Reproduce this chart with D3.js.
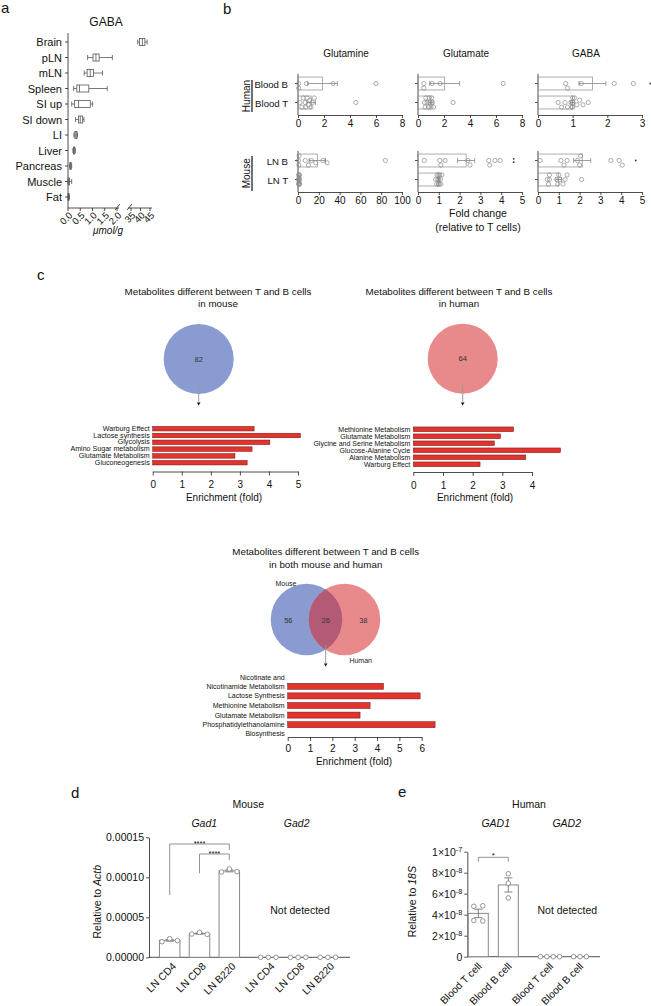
<!DOCTYPE html>
<html>
<head>
<meta charset="utf-8">
<script src="https://cdn.jsdelivr.net/npm/d3@7/dist/d3.min.js"></script>
<style>
html,body{margin:0;padding:0;background:#fff;}
svg{display:block;}
text{font-family:"Liberation Sans", Arial, Helvetica, sans-serif;}
</style>
</head>
<body>
<svg id="fig" width="651" height="1006" viewBox="0 0 651 1006"></svg>
<script>
// ================= DATA =================
// Panel a : GABA content per tissue (umol/g), box plot stats
const tissues = ["Brain","pLN","mLN","Spleen","SI up","SI down","LI","Liver","Pancreas","Muscle","Fat"];
const gabaMin = [38.5,0.80,0.66,0.23,0.15,0.31,0.24,0.20,0.07,0.00,0.00];
const gabaQ1  = [39.5,1.02,0.78,0.36,0.27,0.43,0.28,0.22,0.08,0.01,0.01];
const gabaMed = [41.0,1.14,0.91,0.47,0.43,0.50,0.32,0.25,0.10,0.03,0.02];
const gabaQ3  = [42.3,1.27,1.04,0.85,0.91,0.60,0.36,0.28,0.13,0.06,0.04];
const gabaMax = [43.5,1.81,1.41,1.60,1.00,0.65,0.39,0.30,0.15,0.15,0.06];
const aTicksLow = [0,0.5,1,1.5,2];
const aTicksHigh = [35,40,45];

// Panel b : fold change relative to T cells
const metabolites = ["Glutamine","Glutamate","GABA"];
const humanRows = ["Blood B","Blood T"];
const mouseRows = ["LN B","LN T"];
const humanMax = [8,8,3];
const mouseMax = [100,5,5];
const humanTicks = [[0,2,4,6,8],[0,2,4,6,8],[0,1,2,3]];
const mouseTicks = [[0,20,40,60,80,100],[0,1,2,3,4,5],[0,1,2,3,4,5]];
const humanGlnB  = [0.05,0.05,0.65,2.7,6.0];
const humanGlnT  = [0.15,0.3,0.4,0.55,0.6,0.7,0.8,0.9,1.0,1.1,1.25,4.45];
const humanGluB  = [0.45,0.45,1.1,1.7,6.55];
const humanGluT  = [0.5,0.55,0.6,0.7,0.8,0.85,0.9,1.0,1.05,1.1,1.2,2.7];
const humanGabaB = [0.85,0.8,1.25,2.2,2.75];
const humanGabaT = [0.58,0.68,0.78,0.85,0.95,0.98,1.0,1.0,1.0,1.05,1.12,1.2,1.3,1.45];
const mouseGlnB  = [0.5,0.8,1.0,7,10,13,17,24,28,84];
const mouseGlnT  = [0.6,0.7,0.8,0.9,0.95,1.0,1.0,1.05,1.1,1.2,1.3,1.5];
const mouseGluB  = [0.3,1.05,1.3,1.1,2.5,2.4,3.45,3.4,3.7,3.95];
const mouseGluT  = [0.85,0.9,0.92,0.95,0.98,1.0,1.0,1.02,1.05,1.08,1.1,1.15];
const mouseGabaB = [0.1,1.1,1.4,1.25,1.9,2.05,2.0,3.5,3.9,4.05];
const mouseGabaT = [0.45,0.5,0.55,0.55,0.9,0.95,1.0,1.05,1.2,1.3,1.4,2.1];
const humanSigPos = [null,null,3.24];
const humanSigN   = [0,0,1];
const mouseSigPos = [null,4.6,4.7];
const mouseSigN   = [0,2,1];

// Panel c : pathway enrichment
const mouseSetSize = "82", humanSetSize = "64";
const mouseOnly = "56", sharedCount = "26", humanOnly = "38";
const mousePathways = ["Warburg Effect","Lactose synthesis","Glycolysis","Amino Sugar metabolism","Glutamate Metabolism","Gluconeogenesis"];
const mouseEnrich = [3.49,5.08,4.03,3.42,2.83,3.25];
const humanPathways = ["Methionine Metabolism","Glutamate Metabolism","Glycine and Serine Metabolism","Glucose-Alanine Cycle","Alanine Metabolism","Warburg Effect"];
const humanEnrich = [3.38,2.94,2.73,4.96,3.79,2.25];
const sharedPathways = ["Nicotinate and\nNicotinamide Metabolism","Lactose Synthesis","Methionine Metabolism","Glutamate Metabolism","Phosphatidylethanolamine\nBiosynthesis"];
const sharedEnrich = [4.29,5.93,3.69,3.24,6.6];
const mouseEnrichTicks = [0,1,2,3,4,5];
const humanEnrichTicks = [0,1,2,3,4];
const sharedEnrichTicks = [0,1,2,3,4,5,6];

// Panel d : mouse Gad1 / Gad2 relative to Actb
const dGenes = ["Gad1","Gad2"];
const dCells = ["LN CD4","LN CD8","LN B220"];
const dGad1 = [[0.0000195,0.0000233,0.0000208],[0.0000291,0.0000312,0.0000287],[0.0001066,0.0001104,0.000107]];
const dGad2 = [[0,0,0],[0,0,0],[0,0,0]];
const dTicks = [0,0.00005,0.0001,0.00015];

// Panel e : human GAD1 / GAD2 relative to 18S
const eGenes = ["GAD1","GAD2"];
const eCells = ["Blood T cell","Blood B cell"];
const eGAD1 = [[4.8e-8,4.85e-8,3.45e-8,3.4e-8],[7.9e-8,7.0e-8,5.6e-8]];
const eGAD2 = [[0,0,0,0],[0,0,0]];
const eTicks = [0,2e-8,4e-8,6e-8,8e-8,1e-7];

// ================= HELPERS =================
const svg = d3.select("#fig");
svg.append("rect").attr("width",651).attr("height",1006).attr("fill","#fff");

function txt(p,x,y,s,size,o={}){
  const t=p.append("text").attr("x",x).attr("y",y).attr("font-size",size).text(s);
  if(o.anchor) t.attr("text-anchor",o.anchor);
  if(o.italic) t.attr("font-style","italic");
  if(o.baseline) t.attr("dominant-baseline",o.baseline);
  t.attr("fill",o.fill||"#111");
  return t;
}
function ln(p,x1,y1,x2,y2,stroke="#222",w=0.8){
  return p.append("line").attr("x1",x1).attr("y1",y1).attr("x2",x2).attr("y2",y2).attr("stroke",stroke).attr("stroke-width",w);
}
function styleAxis(g,fs){
  g.attr("font-size",fs);
  g.selectAll(".domain").attr("stroke","#222").attr("stroke-width",0.8);
  g.selectAll(".tick line").attr("stroke","#222").attr("stroke-width",0.8);
  g.selectAll(".tick text").attr("fill","#111");
}
function meanSem(a){const m=d3.mean(a);const s=a.length>1?d3.deviation(a)/Math.sqrt(a.length):0;return [m,s];}
const intFmt=d3.format("d");

// panel letters
txt(svg,1,13,"a",15); txt(svg,223,14,"b",15); txt(svg,37,280,"c",15);
txt(svg,71,798,"d",15); txt(svg,398,797,"e",15);

// ================= PANEL A =================
{
  const g=svg.append("g");
  const aY=d3.scalePoint(tissues,[42,197]);
  const aLo=d3.scaleLinear([0,2],[68,117]);
  const aHi=d3.scaleLinear([35,45],[131,150]);
  const aX=v=>v>10?aHi(v):aLo(v);
  txt(g,106,26,"GABA",12,{anchor:"middle"});
  ln(g,68,33,68,208);
  tissues.forEach((t,i)=>{
    const y=aY(t);
    ln(g,65,y,68,y);
    txt(g,62,y,t,11,{anchor:"end",baseline:"central"});
    const c="#555";
    ln(g,aX(gabaMin[i]),y,aX(gabaQ1[i]),y,c,0.8);
    ln(g,aX(gabaQ3[i]),y,aX(gabaMax[i]),y,c,0.8);
    ln(g,aX(gabaMin[i]),y-2.5,aX(gabaMin[i]),y+2.5,c,0.8);
    ln(g,aX(gabaMax[i]),y-2.5,aX(gabaMax[i]),y+2.5,c,0.8);
    g.append("rect").attr("x",aX(gabaQ1[i])).attr("y",y-3.5).attr("width",Math.max(0.5,aX(gabaQ3[i])-aX(gabaQ1[i]))).attr("height",7)
      .attr("fill","#fff").attr("stroke",c).attr("stroke-width",0.8);
    ln(g,aX(gabaMed[i]),y-3.5,aX(gabaMed[i]),y+3.5,c,0.8);
  });
  ln(g,68,208,119,208); ln(g,128,208,152,208);
  ln(g,115,210,120,204); ln(g,127,210,132,204);
  aTicksLow.forEach(v=>{ln(g,aLo(v),208,aLo(v),211);
    g.append("text").attr("transform",`translate(${aLo(v)+5},216) rotate(-45)`).attr("text-anchor","end").attr("font-size",9.5).attr("fill","#111").text(d3.format(".1f")(v));});
  aTicksHigh.forEach(v=>{ln(g,aHi(v),208,aHi(v),211);
    g.append("text").attr("transform",`translate(${aHi(v)+5},216) rotate(-45)`).attr("text-anchor","end").attr("font-size",9.5).attr("fill","#111").text(v);});
  txt(g,108,234,"\u03bcmol/g",10,{anchor:"middle",italic:true});
}

// ================= PANEL B =================
function swarmY(vals,xs,cy,r,step,maxOff){
  const pts=vals.map(v=>({v,x:xs(v)})).sort((a,b)=>a.x-b.x);
  const offs=[0];for(let k=1;k<=6;k++){offs.push(k*step,-k*step);}
  const placed=[];
  pts.forEach(p=>{
    let best=0,bestC=Infinity;
    for(const o of offs){
      if(Math.abs(o)>maxOff) continue;
      let c=0;placed.forEach(q=>{const d=Math.hypot(q.x-p.x,q.y-(cy+o));if(d<2*r)c+=(2*r-d);});
      if(c===0){best=o;bestC=0;break;}
      if(c<bestC){bestC=c;best=o;}
    }
    p.y=cy+best;placed.push(p);
  });
  return placed;
}
const colX0=[298,418,538], colW=104;
function drawBBlock(top,rows,maxes,ticks,dataRows,sigPos,sigN){
  metabolites.forEach((m,c)=>{
    const x0=colX0[c];
    const xs=d3.scaleLinear([0,maxes[c]],[x0,x0+colW]);
    const ys=d3.scaleBand(rows,[top,top+38]).paddingInner(0.32).paddingOuter(0.16);
    const g=svg.append("g");
    const ax=g.append("g").attr("transform",`translate(0,${top+41})`)
      .call(d3.axisBottom(xs).tickValues(ticks[c]).tickFormat(intFmt).tickSize(3).tickPadding(1.5).tickSizeOuter(0));
    styleAxis(ax,10);
    ln(g,x0,top,x0,top+41);
    rows.forEach((r,ri)=>{
      const vals=dataRows[ri][c];
      const cy=ys(r)+ys.bandwidth()/2;
      ln(g,x0-3,cy,x0,cy);
      const [mu,se]=meanSem(vals);
      g.append("rect").attr("x",x0).attr("y",ys(r)).attr("width",Math.max(0.6,xs(mu)-x0)).attr("height",ys.bandwidth())
        .attr("fill","none").attr("stroke","#9a9a9a").attr("stroke-width",0.8);
      const e1=xs(Math.max(0,mu-se)), e2=xs(mu+se);
      ln(g,e1,cy,e2,cy,"#888",0.8);
      ln(g,e1,cy-2.5,e1,cy+2.5,"#888",0.8);
      ln(g,e2,cy-2.5,e2,cy+2.5,"#888",0.8);
      const pts=swarmY(vals,xs,cy,2.1,2.3,6.5);
      g.selectAll(null).data(pts).join("circle").attr("cx",d=>d.x).attr("cy",d=>d.y).attr("r",2.1)
        .attr("fill","none").attr("stroke","#8a8a8a").attr("stroke-width",0.7);
      if(ri===0 && sigPos[c]!==null){
        const n=sigN[c];
        for(let k=0;k<n;k++){
          const yy=cy+(k-(n-1)/2)*3.4;
          g.append("circle").attr("cx",xs(sigPos[c])).attr("cy",yy).attr("r",0.9).attr("fill","#333");
        }
      }
    });
  });
}
{
  const g=svg.append("g");
  metabolites.forEach((m,c)=>txt(g,colX0[c]+48,57,m,10,{anchor:"middle"}));
  drawBBlock(74,humanRows,humanMax,humanTicks,
    [[humanGlnB,humanGluB,humanGabaB],[humanGlnT,humanGluT,humanGabaT]],humanSigPos,humanSigN);
  drawBBlock(151,mouseRows,mouseMax,mouseTicks,
    [[mouseGlnB,mouseGluB,mouseGabaB],[mouseGlnT,mouseGluT,mouseGabaT]],mouseSigPos,mouseSigN);
  const yh=d3.scaleBand(humanRows,[74,112]).paddingInner(0.32).paddingOuter(0.16);
  const ym=d3.scaleBand(mouseRows,[151,189]).paddingInner(0.32).paddingOuter(0.16);
  humanRows.forEach(r=>txt(g,288,yh(r)+yh.bandwidth()/2+1,r,9.6,{anchor:"end",baseline:"central"}));
  mouseRows.forEach(r=>txt(g,288,ym(r)+ym.bandwidth()/2+1,r,9.6,{anchor:"end",baseline:"central"}));
  g.append("text").attr("transform","translate(246,96) rotate(-90)").attr("text-anchor","middle").attr("dominant-baseline","central").attr("font-size",10).attr("fill","#111").text("Human");
  g.append("text").attr("transform","translate(246,173.3) rotate(-90)").attr("text-anchor","middle").attr("dominant-baseline","central").attr("font-size",10).attr("fill","#111").text("Mouse");
  ln(g,252,80,252,112,"#222",1.3);
  ln(g,252,156,252,191,"#222",1.3);
  txt(g,478,217,"Fold change",10.5,{anchor:"middle"});
  txt(g,478,230.5,"(relative to T cells)",10.5,{anchor:"middle"});
}

// ================= PANEL C =================
const blueC="#8a9bd1", redC="#e8898b", overlapC="#b25a76", barC="#e2332d";
function arrow(g,x,y1,y2){
  ln(g,x,y1,x,y2,"#999",1);
  g.append("path").attr("d",`M${x-1.8},${y2+0.5}L${x+1.8},${y2+0.5}L${x},${y2+3.5}Z`).attr("fill","#111");
}
function enrichChart(cats,vals,ticks,x0,x1,y0,y1,axisY,labelFs,pad,tickPad){
  const g=svg.append("g");
  const xs=d3.scaleLinear([0,ticks[ticks.length-1]],[x0,x1]);
  const ys=d3.scaleBand(cats,[y0,y1]).paddingInner(pad).paddingOuter(pad/2);
  cats.forEach((c,i)=>{
    g.append("rect").attr("x",x0).attr("y",ys(c)).attr("width",xs(vals[i])-x0).attr("height",ys.bandwidth())
      .attr("fill",barC).attr("stroke","#6b1512").attr("stroke-width",0.5);
    const lines=c.split("\n");
    const cy=ys(c)+ys.bandwidth()/2;
    const lh=labelFs*1.3;
    lines.forEach((l,k)=>{
      const yy= i===0 ? cy-(lines.length-1-k)*lh : cy+k*lh;
      txt(g,x0-3,yy,l,labelFs,{anchor:"end",baseline:"central"});
    });
  });
  const ax=g.append("g").attr("transform",`translate(0,${axisY})`)
    .call(d3.axisBottom(xs).tickValues(ticks).tickFormat(intFmt).tickSize(4).tickPadding(tickPad).tickSizeOuter(0));
  styleAxis(ax,10);
  return g;
}
{
  const g=svg.append("g");
  txt(g,218,295,"Metabolites different between T and B cells",9.8,{anchor:"middle"});
  txt(g,218,307,"in mouse",9.8,{anchor:"middle"});
  g.append("circle").attr("cx",198.7).attr("cy",359).attr("r",35).attr("fill",blueC);
  txt(g,198.7,359,mouseSetSize,7.5,{anchor:"middle",baseline:"central",fill:"#333"});
  arrow(g,198.7,385,402);
  enrichChart(mousePathways,mouseEnrich,mouseEnrichTicks,152.7,298,425.3,466.1,471.5,7.1,0.33,5.5);
  txt(g,224,501,"Enrichment (fold)",10,{anchor:"middle"});
  txt(g,459,295,"Metabolites different between T and B cells",9.8,{anchor:"middle"});
  txt(g,459,307,"in human",9.8,{anchor:"middle"});
  g.append("circle").attr("cx",462.7).attr("cy",358.7).attr("r",35).attr("fill",redC);
  txt(g,462.7,358.7,humanSetSize,7.5,{anchor:"middle",baseline:"central",fill:"#333"});
  arrow(g,462.7,385,402);
  enrichChart(humanPathways,humanEnrich,humanEnrichTicks,413.3,532,425.8,467.8,472,7,0.33,5.5);
  txt(g,475,501,"Enrichment (fold)",10,{anchor:"middle"});
  txt(g,325.7,555,"Metabolites different between T and B cells",9.8,{anchor:"middle"});
  txt(g,325.7,567.5,"in both mouse and human",9.8,{anchor:"middle"});
  const defs=svg.append("defs");
  defs.append("clipPath").attr("id","clipM").append("circle").attr("cx",306.5).attr("cy",619.5).attr("r",35.8);
  g.append("circle").attr("cx",306.5).attr("cy",619.5).attr("r",35.8).attr("fill",blueC);
  g.append("circle").attr("cx",344.5).attr("cy",619.5).attr("r",35.8).attr("fill",redC);
  g.append("circle").attr("cx",344.5).attr("cy",619.5).attr("r",35.8).attr("fill",overlapC).attr("clip-path","url(#clipM)");
  txt(g,288.3,620,mouseOnly,7.5,{anchor:"middle",baseline:"central",fill:"#333"});
  txt(g,325.7,620,sharedCount,7.5,{anchor:"middle",baseline:"central",fill:"#333"});
  txt(g,363.3,620,humanOnly,7.5,{anchor:"middle",baseline:"central",fill:"#333"});
  txt(g,286,583.5,"Mouse",7,{anchor:"middle",baseline:"central",fill:"#222"});
  txt(g,360.7,660,"Human",7,{anchor:"middle",baseline:"central",fill:"#222"});
  arrow(g,325.7,645,663);
  enrichChart(sharedPathways,sharedEnrich,sharedEnrichTicks,287.7,421.7,681.5,729.5,737,7,0.37,4);
  txt(g,354,764.5,"Enrichment (fold)",10,{anchor:"middle"});
}

// ================= PANELS D & E =================
function clusterX(vals,yS,r,spacing){
  const ys=vals.map(v=>yS(v));
  const idx=vals.map((v,i)=>i).sort((a,b)=>ys[a]-ys[b]);
  const groups=[];let cur=[idx[0]];
  for(let k=1;k<idx.length;k++){
    if(ys[idx[k]]-ys[cur[cur.length-1]]<2*r+0.6) cur.push(idx[k]); else {groups.push(cur);cur=[idx[k]];}
  }
  groups.push(cur);
  const off=new Array(vals.length).fill(0);
  groups.forEach(gr=>{gr.sort((a,b)=>a-b);gr.forEach((i,j)=>{off[i]=(j-(gr.length-1)/2)*spacing;});});
  return off;
}
function qpcrBars(g,cx,vals,yS,barW,spacing){
  const [mu,se]=meanSem(vals);
  if(mu>0){
    g.append("rect").attr("x",cx-barW/2).attr("y",yS(mu)).attr("width",barW).attr("height",yS(0)-yS(mu))
      .attr("fill","#fff").attr("stroke","#888").attr("stroke-width",1);
    ln(g,cx,yS(mu-se),cx,yS(mu+se),"#777",0.9);
    ln(g,cx-4,yS(mu-se),cx+4,yS(mu-se),"#777",0.9);
    ln(g,cx-4,yS(mu+se),cx+4,yS(mu+se),"#777",0.9);
  }
  const off=clusterX(vals,yS,2.3,spacing);
  vals.forEach((v,i)=>{
    g.append("circle").attr("cx",cx+off[i]).attr("cy",yS(v)).attr("r",2.3)
      .attr("fill","#fff").attr("stroke","#8a8a8a").attr("stroke-width",0.9);
  });
}
{
  const g=svg.append("g");
  const yS=d3.scaleLinear([0,0.00015],[957.3,837.3]);
  const outer=d3.scalePoint(dGenes,[169.7,268.3]);
  const inner=d3.scalePoint(dCells,[0,59.6]);
  txt(g,248.3,808,"Mouse",10.5,{anchor:"middle"});
  dGenes.forEach(ge=>txt(g,outer(ge)+(ge==="Gad1"?34.6:28.4),826.5,ge,10.5,{anchor:"middle",italic:true}));
  const ay=g.append("g").attr("transform","translate(149,0)")
    .call(d3.axisLeft(yS).tickValues(dTicks).tickFormat(d3.format(".5f")).tickSize(3).tickPadding(2).tickSizeOuter(0));
  styleAxis(ay,10.5);
  ln(g,149,957.3,350,957.3);
  [dGad1,dGad2].forEach((arr,gi)=>{
    dCells.forEach((c,ci)=>{
      const cx=outer(dGenes[gi])+inner(c);
      qpcrBars(g,cx,arr[ci],yS,20.5,7.7);
      g.append("text").attr("transform",`translate(${cx+7},967) rotate(-45)`).attr("text-anchor","end")
        .attr("font-size",10.3).attr("fill","#111").text(c);
    });
  });
  const t=g.append("text").attr("transform","translate(96.7,901.7) rotate(-90)").attr("text-anchor","middle")
    .attr("dominant-baseline","central").attr("font-size",10.5).attr("fill","#111");
  t.append("tspan").text("Relative to ");
  t.append("tspan").attr("font-style","italic").text("Actb");
  const xCD4=outer("Gad1")+inner("LN CD4"), xCD8=outer("Gad1")+inner("LN CD8"), xB=outer("Gad1")+inner("LN B220");
  g.append("path").attr("d",`M${xCD4},895V844H${xB}V850`).attr("fill","none").attr("stroke","#777").attr("stroke-width",0.8);
  g.append("path").attr("d",`M${xCD8},873.3V854H${xB}V860`).attr("fill","none").attr("stroke","#777").attr("stroke-width",0.8);
  txt(g,(xCD4+xB)/2,846,"****",7.5,{anchor:"middle"});
  txt(g,(xCD8+xB)/2,856.3,"****",7.5,{anchor:"middle"});
  txt(g,300,914.3,"Not detected",10.5,{anchor:"middle"});
}
{
  const g=svg.append("g");
  const yS=d3.scaleLinear([0,1e-7],[956.7,851.7]);
  const outer=d3.scalePoint(eGenes,[478.3,550]);
  const inner=d3.scalePoint(eCells,[0,30]);
  txt(g,529,808,"Human",10.5,{anchor:"middle"});
  eGenes.forEach(ge=>txt(g,outer(ge)+(ge==="GAD1"?17.4:16.7),826.5,ge,10.5,{anchor:"middle",italic:true}));
  const ay=g.append("g").attr("transform","translate(467.3,0)")
    .call(d3.axisLeft(yS).tickValues(eTicks).tickSize(3).tickPadding(2).tickSizeOuter(0));
  styleAxis(ay,10.5);
  ay.selectAll(".tick text").each(function(d){
    const t=d3.select(this);t.text(null);
    if(d===0){t.text("0");return;}
    const ex=Math.floor(Math.log10(d)+1e-9);const mant=Math.round(d/Math.pow(10,ex));
    t.append("tspan").text(mant+"\u00d710");
    t.append("tspan").attr("dy","-0.45em").attr("font-size","0.7em").text(String(ex));
  });
  ln(g,467.3,956.7,600,956.7);
  [eGAD1,eGAD2].forEach((arr,gi)=>{
    eCells.forEach((c,ci)=>{
      const cx=outer(eGenes[gi])+inner(c);
      qpcrBars(g,cx,arr[ci],yS,20,gi===0?9:6.4);
      g.append("text").attr("transform",`translate(${cx+4},967) rotate(-45)`).attr("text-anchor","end")
        .attr("font-size",10.3).attr("fill","#111").text(c);
    });
  });
  const t=g.append("text").attr("transform","translate(411.7,901.7) rotate(-90)").attr("text-anchor","middle")
    .attr("dominant-baseline","central").attr("font-size",10.5).attr("fill","#111");
  t.append("tspan").text("Relative to ");
  t.append("tspan").attr("font-style","italic").text("18S");
  const xT=outer("GAD1")+inner("Blood T cell"), xBc=outer("GAD1")+inner("Blood B cell");
  g.append("path").attr("d",`M${xT},861.7V857.3H${xBc}V861.7`).attr("fill","none").attr("stroke","#777").attr("stroke-width",0.8);
  txt(g,(xT+xBc)/2,858,"*",8,{anchor:"middle"});
  txt(g,567.3,914.3,"Not detected",10.5,{anchor:"middle"});
}
</script>
</body>
</html>
